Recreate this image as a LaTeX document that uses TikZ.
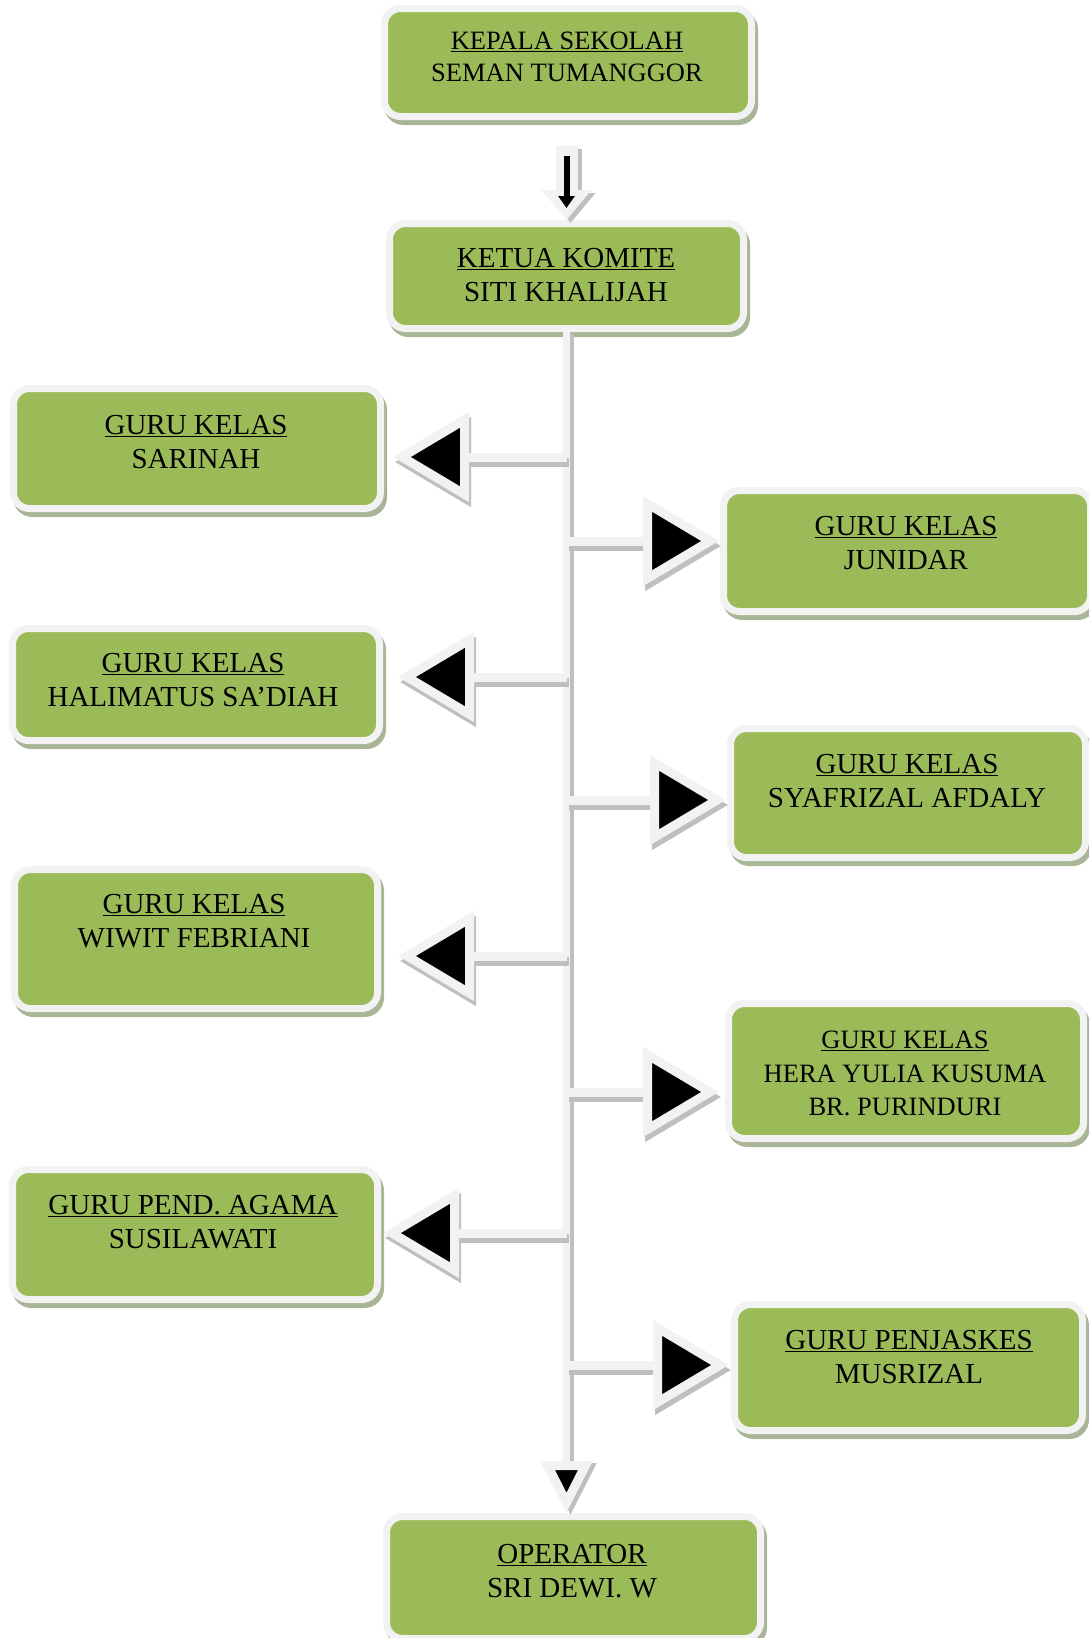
\documentclass[tikz,border=0pt]{standalone}
\usepackage{fontspec}
\setmainfont{Liberation Serif}
\usetikzlibrary{arrows.meta,shadows}

\definecolor{boxgreen}{HTML}{9BBB59}
\definecolor{rimwhite}{HTML}{F2F2F2}
\definecolor{boxshade}{HTML}{A9B597}
\definecolor{lineshade}{HTML}{BFBFBF}

\tikzset{
  orgbox/.style={rectangle, rounded corners=16pt, fill=boxgreen, draw=rimwhite, line width=7pt,
    drop shadow={shadow xshift=3pt, shadow yshift=-5pt, fill=boxshade, draw=boxshade, line width=7pt, opacity=1}},
  orgtext/.style={align=center, inner sep=0pt, font=\fontsize{29}{34}\selectfont},
  smalltext/.style={align=center, inner sep=0pt, font=\fontsize{26.5}{31.5}\selectfont},
  branch/.style={draw=rimwhite, line width=9pt,
    -{Triangle[length=76pt, width=88pt, line width=9pt, fill=black]}},
  branchshade/.style={draw=lineshade, line width=9pt, transform canvas={xshift=2pt, yshift=-5pt},
    -{Triangle[length=76pt, width=88pt, line width=9pt, fill=lineshade]}},
  trunk/.style={draw=rimwhite, line width=7pt,
    -{Triangle[length=52pt, width=50pt, line width=9pt, fill=black]}},
  trunkshade/.style={draw=lineshade, line width=7pt, transform canvas={xshift=4pt, yshift=-2pt},
    -{Triangle[length=52pt, width=50pt, line width=9pt, fill=lineshade]}},
  blockarrow/.style={draw=rimwhite, line width=22pt,
    -{Triangle[length=30pt, width=48pt, fill=rimwhite]}},
  blockshade/.style={draw=lineshade, line width=22pt, transform canvas={xshift=4pt, yshift=-3pt},
    -{Triangle[length=30pt, width=48pt, fill=lineshade]}},
  innerarrow/.style={draw=black, line width=6pt, -{Triangle[length=12pt, width=16pt]}},
}

\begin{document}
\begin{tikzpicture}[x=1pt, y=-1pt]
  \useasboundingbox (0,0) rectangle (1089,1638);

  % kepala sekolah, komite dan operator
  \node[orgbox, minimum width=367pt, minimum height=108pt] (kepala) at (568,62.5) {};
  \node[smalltext] (kepala-t) at (567,57) {\underline{KEPALA SEKOLAH}\\SEMAN TUMANGGOR};
  \node[orgbox, minimum width=354pt, minimum height=105pt] (ketua) at (566.5,276) {};
  \node[orgtext] (ketua-t) at (566,275.5) {\underline{KETUA KOMITE}\\SITI KHALIJAH};
  \node[orgbox, minimum width=374pt, minimum height=122pt] (operator) at (573.5,1577.5) {};
  \node[orgtext] (operator-t) at (572,1571.5) {\underline{OPERATOR}\\SRI DEWI. W};

  % guru kiri dan kanan
  \foreach \name/\cx/\cy/\w/\h/\tx/\ty/\role/\who in {
      sarinah/197/448.5/367/120/196/442/GURU KELAS/SARINAH,
      halimatus/196/684.5/367/112/193/680.5/GURU KELAS/HALIMATUS SA’DIAH,
      wiwit/196/939/363/139/194/921.5/GURU KELAS/WIWIT FEBRIANI,
      agama/195/1234.5/365/130/193/1222/GURU PEND. AGAMA/SUSILAWATI,
      junidar/907/551/367/121/906/543.5/GURU KELAS/JUNIDAR,
      syafrizal/908/793/355/129/907/781.5/GURU KELAS/SYAFRIZAL AFDALY,
      musrizal/908.5/1367.5/348/126/909/1357.5/GURU PENJASKES/MUSRIZAL} {
    \node[orgbox, minimum width=\w pt, minimum height=\h pt] (\name) at (\cx,\cy) {};
    \node[orgtext] (\name-t) at (\tx,\ty) {\underline{\role}\\\who};
  }
  \node[orgbox, minimum width=355pt, minimum height=135pt] (hera) at (906,1071) {};
  \node[smalltext, font=\fontsize{26.5}{33.5}\selectfont] (hera-t) at (905,1073.5)
    {\underline{GURU KELAS}\\HERA YULIA KUSUMA\\BR. PURINDURI};

  % panah
  \coordinate (top) at ([yshift=-26pt]kepala.south -| ketua.north);
  \draw[blockshade] (top) -- (ketua.north);
  \draw[blockarrow] (top) -- (ketua.north);
  \draw[innerarrow] ([yshift=-10pt]top) -- ([yshift=12pt]ketua.north);

  \draw[trunkshade] (ketua.south) -- (ketua.south |- operator.north);
  \draw[trunk] (ketua.south) -- (ketua.south |- operator.north);

  \foreach \name/\by/\gap in {sarinah/457/9, halimatus/677/15, wiwit/956/17, agama/1233/2} {
    \coordinate (b\name) at (ketua.south |- 0,\by);
    \draw[branchshade, shorten >=\gap pt] (b\name) -- (b\name -| \name.east);
    \draw[branch, shorten >=\gap pt] (b\name) -- (b\name -| \name.east);
  }
  \foreach \name/\by/\gap in {junidar/541/1, syafrizal/800/1, hera/1092/6, musrizal/1365/2} {
    \coordinate (b\name) at (ketua.south |- 0,\by);
    \draw[branchshade, shorten >=\gap pt] (b\name) -- (b\name -| \name.west);
    \draw[branch, shorten >=\gap pt] (b\name) -- (b\name -| \name.west);
  }
\end{tikzpicture}
\end{document}
